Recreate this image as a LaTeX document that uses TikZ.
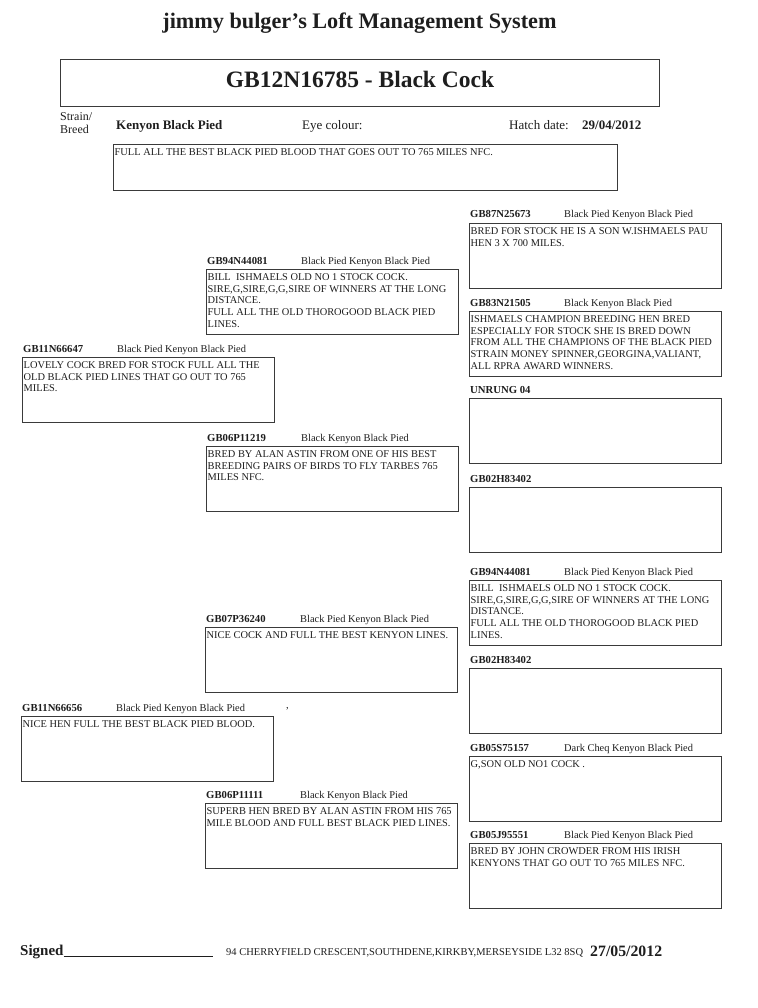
\documentclass[tikz,border=0pt]{standalone}
\usepackage{fontspec}
\setmainfont{Liberation Serif}
\usetikzlibrary{calc}
\definecolor{ink}{HTML}{1E1E1E}
\definecolor{rule}{HTML}{3A3A3A}
\tikzset{
  cardbox/.style={draw=rule, line width=0.9pt, minimum width=252pt, minimum height=65pt, inner sep=0pt, outer sep=0pt},
  ringid/.style={font=\bfseries\fontsize{10.7}{12}\selectfont, text=ink, inner sep=0pt},
  strainlbl/.style={font=\fontsize{10.4}{12}\selectfont, text=ink, inner sep=0pt},
  cardtxt/.style={font=\fontsize{10.4}{11.9}\selectfont, text=ink, inner sep=0pt, align=left},
  hdrtxt/.style={font=\fontsize{13}{15}\selectfont, text=ink, inner sep=0pt},
}
\newcommand\pigeoncard[6]{%
  \node[cardbox, anchor=north west] (#1) at (#2,#3) {};
  \node[ringid, anchor=base west] (#1-id) at ($(#1.north west)+(1,-5)$) {#4};
  \node[strainlbl, anchor=base west] (#1-st) at ($(#1.north west)+(95,-5)$) {#5};
  \node[cardtxt, anchor=north west] (#1-tx) at ($(#1.north west)+(1.5,4.1)$) {#6};
}
\begin{document}
\begin{tikzpicture}[x=1pt,y=-1pt]
\useasboundingbox[fill=white] (0,0) rectangle (757,1008);

% header
\node[font=\bfseries\fontsize{22.2}{26}\selectfont, text=ink, inner sep=0pt, anchor=base] (hdr) at (359.5,29) {jimmy bulger's Loft Management System};
\node[draw=rule, line width=1pt, minimum width=599pt, minimum height=47pt, inner sep=0pt, anchor=north west] (titlebox) at (60,59) {};
\node[font=\bfseries\fontsize{23.5}{28}\selectfont, text=ink, inner sep=0pt, anchor=base] (title) at ($(titlebox.north)+(0,29)$) {GB12N16785 - Black Cock};

\node[font=\fontsize{12}{13}\selectfont, text=ink, inner sep=0pt, anchor=base west, align=left] (strainhd) at (60,121) {Strain/};
\node[font=\fontsize{12}{13}\selectfont, text=ink, inner sep=0pt, anchor=base west] (breedhd) at (60,134) {Breed};
\node[hdrtxt, font=\bfseries\fontsize{13}{15}\selectfont, anchor=base west] (strain) at (116,130) {Kenyon Black Pied};
\node[hdrtxt, anchor=base west] (eye) at (302,130) {Eye colour:};
\node[hdrtxt, anchor=base west] (hatchhd) at (509,130) {Hatch date:};
\node[hdrtxt, font=\bfseries\fontsize{13}{15}\selectfont, anchor=base west] (hatch) at (582,130) {29/04/2012};

\node[draw=rule, line width=0.9pt, minimum width=504pt, minimum height=46pt, inner sep=0pt, anchor=north west] (notebox) at (113,144) {};
\node[cardtxt, anchor=north west] (notetx) at ($(notebox.north west)+(1.5,4.1)$) {FULL ALL THE BEST BLACK PIED BLOOD THAT GOES OUT TO 765 MILES NFC.};

% left column
\pigeoncard{l1}{22}{357}{GB11N66647}{Black Pied Kenyon Black Pied}{LOVELY COCK BRED FOR STOCK FULL ALL THE\\OLD BLACK PIED LINES THAT GO OUT TO 765\\MILES.}
\pigeoncard{l2}{21}{716}{GB11N66656}{Black Pied Kenyon Black Pied}{NICE HEN FULL THE BEST BLACK PIED BLOOD.}
\node[strainlbl, anchor=base west] (comma) at (286,708) {,};

% middle column
\pigeoncard{m1}{206}{269}{GB94N44081}{Black Pied Kenyon Black Pied}{BILL\ \ ISHMAELS OLD NO 1 STOCK COCK.\\SIRE,G,SIRE,G,G,SIRE OF WINNERS AT THE LONG\\DISTANCE.\\FULL ALL THE OLD THOROGOOD BLACK PIED\\LINES.}
\pigeoncard{m2}{206}{446}{GB06P11219}{Black Kenyon Black Pied}{BRED BY ALAN ASTIN FROM ONE OF HIS BEST\\BREEDING PAIRS OF BIRDS TO FLY TARBES 765\\MILES NFC.}
\pigeoncard{m3}{205}{627}{GB07P36240}{Black Pied Kenyon Black Pied}{NICE COCK AND FULL THE BEST KENYON LINES.}
\pigeoncard{m4}{205}{803}{GB06P11111}{Black Kenyon Black Pied}{SUPERB HEN BRED BY ALAN ASTIN FROM HIS 765\\MILE BLOOD AND FULL BEST BLACK PIED LINES.}

% right column
\pigeoncard{r1}{469}{223}{GB87N25673}{Black Pied Kenyon Black Pied}{BRED FOR STOCK HE IS A SON W.ISHMAELS PAU\\HEN 3 X 700 MILES.}
\pigeoncard{r2}{469}{311}{GB83N21505}{Black Kenyon Black Pied}{ISHMAELS CHAMPION BREEDING HEN BRED\\ESPECIALLY FOR STOCK SHE IS BRED DOWN\\FROM ALL THE CHAMPIONS OF THE BLACK PIED\\STRAIN MONEY SPINNER,GEORGINA,VALIANT,\\ALL RPRA AWARD WINNERS.}
\pigeoncard{r3}{469}{398}{UNRUNG 04}{}{}
\pigeoncard{r4}{469}{487}{GB02H83402}{}{}
\pigeoncard{r5}{469}{580}{GB94N44081}{Black Pied Kenyon Black Pied}{BILL\ \ ISHMAELS OLD NO 1 STOCK COCK.\\SIRE,G,SIRE,G,G,SIRE OF WINNERS AT THE LONG\\DISTANCE.\\FULL ALL THE OLD THOROGOOD BLACK PIED\\LINES.}
\pigeoncard{r6}{469}{668}{GB02H83402}{}{}
\pigeoncard{r7}{469}{756}{GB05S75157}{Dark Cheq Kenyon Black Pied}{G,SON OLD NO1 COCK .}
\pigeoncard{r8}{469}{843}{GB05J95551}{Black Pied Kenyon Black Pied}{BRED BY JOHN CROWDER FROM HIS IRISH\\KENYONS THAT GO OUT TO 765 MILES NFC.}

% footer
\node[font=\bfseries\fontsize{15}{18}\selectfont, text=ink, inner sep=0pt, anchor=base west] (signed) at (20,955) {Signed\rule[-2pt]{149pt}{0.8pt}};
\node[font=\fontsize{10.5}{12}\selectfont, text=ink, inner sep=0pt, anchor=base west] (addr) at (226,955) {94 CHERRYFIELD CRESCENT,SOUTHDENE,KIRKBY,MERSEYSIDE L32 8SQ};
\node[font=\bfseries\fontsize{15.8}{18}\selectfont, text=ink, inner sep=0pt, anchor=base west] (sigdate) at (590,956) {27/05/2012};
\end{tikzpicture}
\end{document}
